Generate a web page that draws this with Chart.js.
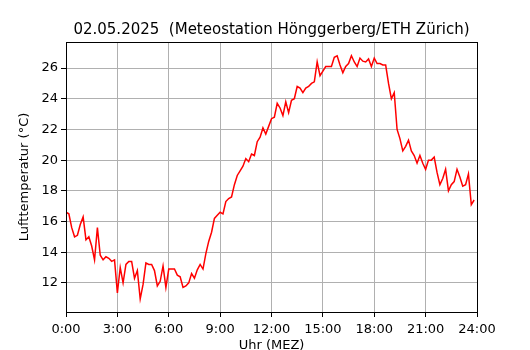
<!DOCTYPE html>
<html lang="de">
<head>
<meta charset="UTF-8">
<title>Lufttemperatur 02.05.2025</title>
<script src="https://cdn.jsdelivr.net/npm/chart.js"></script>
<style>
    html, body { margin: 0; padding: 0; background: #fff; }
    #wrap { width: 530px; height: 350px; }
</style>
</head>
<body>
<div id="wrap"><canvas id="chart" width="530" height="350"></canvas></div>
<script>
// 10-Minuten-Werte, 0:00 bis 23:50 (Uhr MEZ)
const stepMinutes = 10;
const temperatures = [
    16.6, 16.5, 15.6, 15.0, 15.1, 15.8, 16.3, 14.8, 15.0, 14.4,
    13.5, 15.6, 13.8, 13.5, 13.7, 13.6, 13.4, 13.5, 11.35, 13.0,
    12.0, 13.2, 13.4, 13.4, 12.3, 12.8, 10.95, 11.9, 13.3, 13.2,
    13.2, 12.8, 11.8, 12.1, 13.1, 11.7, 12.9, 12.9, 12.9, 12.5,
    12.4, 11.7, 11.8, 12.0, 12.6, 12.3, 12.85, 13.2, 12.9, 13.9,
    14.7, 15.3, 16.2, 16.4, 16.6, 16.5, 17.3, 17.5, 17.6, 18.4,
    19.0, 19.3, 19.6, 20.1, 19.9, 20.4, 20.3, 21.2, 21.5, 22.1,
    21.7, 22.2, 22.7, 22.8, 23.7, 23.4, 22.9, 23.8, 23.1, 23.9,
    24.0, 24.8, 24.7, 24.4, 24.7, 24.8, 25.0, 25.1, 26.4, 25.5,
    25.8, 26.1, 26.1, 26.1, 26.7, 26.8, 26.2, 25.7, 26.1, 26.3,
    26.8, 26.4, 26.1, 26.65, 26.45, 26.4, 26.6, 26.1, 26.65, 26.3,
    26.3, 26.2, 26.2, 25.0, 24.0, 24.4, 22.0, 21.4, 20.6, 20.9,
    21.3, 20.6, 20.3, 19.8, 20.3, 19.8, 19.4, 20.0, 20.0, 20.2,
    19.2, 18.4, 18.8, 19.4, 18.0, 18.4, 18.6, 19.4, 18.9, 18.3,
    18.4, 19.1, 17.1, 17.4
];
const xTicks = [0, 3, 6, 9, 12, 15, 18, 21, 24];
const yTicks = [12, 14, 16, 18, 20, 22, 24, 26];
const titleText = '02.05.2025  (Meteostation Hönggerberg/ETH Zürich)';

const points = temperatures.map((t, i) => ({ x: i * stepMinutes / 60, y: t }));

const FONT = "'DejaVu Sans', sans-serif";
const GRID = '#b0b0b0';

// Rahmen rundum und Titel über der Zeichenfläche zentriert (wie matplotlib)
const frame = {
    id: 'frame',
    afterDraw(chart) {
        const { ctx, chartArea: a } = chart;
        ctx.save();
        ctx.strokeStyle = '#000';
        ctx.lineWidth = 1;
        ctx.strokeRect(a.left + 0.5, a.top + 0.5, a.right - a.left, a.bottom - a.top);
        ctx.fillStyle = '#000';
        ctx.font = '15px ' + FONT;
        ctx.textAlign = 'center';
        ctx.textBaseline = 'middle';
        ctx.fillText(titleText, (a.left + a.right) / 2, 30);
        ctx.restore();
    }
};

new Chart(document.getElementById('chart'), {
    type: 'line',
    data: {
        datasets: [{
            data: points,
            borderColor: '#ff0000',
            borderWidth: 1.5,
            pointRadius: 0,
            tension: 0,
            fill: false
        }]
    },
    options: {
        responsive: false,
        animation: false,
        layout: { padding: { left: 0, right: 53, top: 42, bottom: 0 } },
        plugins: {
            legend: { display: false },
            tooltip: { enabled: false },
            title: { display: false }
        },
        scales: {
            x: {
                type: 'linear',
                min: 0,
                max: 24,
                afterBuildTicks: (axis) => { axis.ticks = xTicks.map(v => ({ value: v })); },
                afterFit: (axis) => { axis.height = 38; },
                ticks: {
                    color: '#000',
                    font: { family: FONT, size: 13 },
                    padding: 5,
                    maxRotation: 0,
                    callback: (v) => v + ':00'
                },
                grid: { color: GRID, lineWidth: 1, tickLength: 5, tickColor: '#000' },
                border: { color: '#000', width: 1 },
                title: {
                    display: true,
                    text: 'Uhr (MEZ)',
                    color: '#000',
                    font: { family: FONT, size: 13 },
                    padding: { top: 0, bottom: -3 }
                }
            },
            y: {
                type: 'linear',
                min: 10.1,
                max: 27.7,
                afterBuildTicks: (axis) => { axis.ticks = yTicks.map(v => ({ value: v })); },
                afterFit: (axis) => { axis.width = 66; },
                ticks: {
                    color: '#000',
                    font: { family: FONT, size: 13 },
                    padding: 3
                },
                grid: { color: GRID, lineWidth: 1, tickLength: 5, tickColor: '#000' },
                border: { color: '#000', width: 1 },
                title: {
                    display: true,
                    text: 'Lufttemperatur (°C)',
                    color: '#000',
                    font: { family: FONT, size: 13 },
                    padding: { top: 17, bottom: 0 }
                }
            }
        }
    },
    plugins: [frame]
});
</script>
</body>
</html>
